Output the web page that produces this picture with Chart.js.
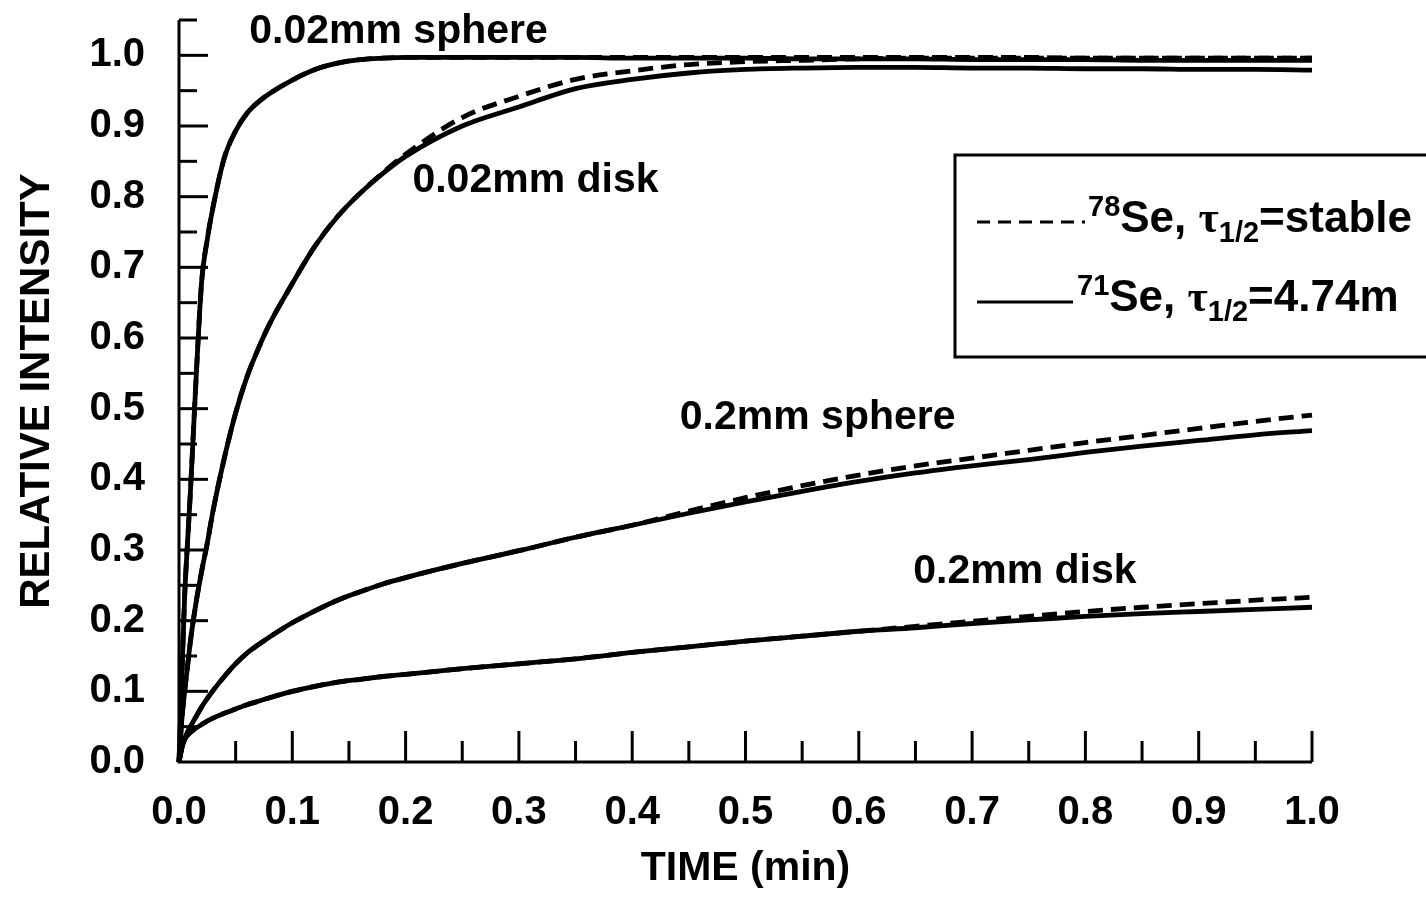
<!DOCTYPE html>
<html><head><meta charset="utf-8">
<script src="https://cdn.jsdelivr.net/npm/chart.js@4"></script>
<style>html,body{margin:0;padding:0;background:#fff;overflow:hidden;}#wrap{width:1426px;height:898px;}</style>
</head><body><div id="wrap"><canvas id="c" width="1426" height="898"></canvas></div>
<script>
// ---- data ----
const timeMin = [0,0.0025,0.005,0.0075,0.01, 0.015,0.02,0.025,0.03, 0.04,0.05,0.06,0.07,0.08, 0.1,0.12,0.14,0.16,0.18,0.2, 0.25,0.3,0.35,0.4,0.45,0.5, 0.55,0.6,0.65,0.7,0.75,0.8, 0.85,0.9,0.95,1.0];

const sphere002_Se71 = [0,0.12,0.235,0.31,0.38, 0.54,0.68,0.74,0.785, 0.855,0.893,0.918,0.934,0.946, 0.965,0.98,0.989,0.994,0.996,0.997, 0.997,0.997,0.997,0.996,0.996,0.996, 0.995,0.995,0.995,0.994,0.994,0.994, 0.993,0.993,0.993,0.993];
const sphere002_Se78 = [0,0.12,0.235,0.31,0.38, 0.54,0.68,0.74,0.785, 0.855,0.893,0.918,0.934,0.946, 0.965,0.98,0.989,0.994,0.996,0.997, 0.997,0.997,0.997,0.997,0.997,0.997, 0.997,0.997,0.997,0.997,0.997,0.996, 0.996,0.996,0.996,0.996];

const disk002_Se71 = [0,0.06,0.10,0.135,0.17, 0.225,0.27,0.31,0.355, 0.43,0.494,0.545,0.585,0.62, 0.677,0.73,0.772,0.805,0.833,0.857, 0.9,0.927,0.953,0.966,0.975,0.98, 0.982,0.983,0.983,0.982,0.982,0.981, 0.981,0.98,0.98,0.979];
const disk002_Se78 = [0,0.06,0.10,0.135,0.17, 0.225,0.27,0.31,0.355, 0.43,0.494,0.545,0.585,0.62, 0.677,0.73,0.772,0.805,0.834,0.86, 0.912,0.942,0.966,0.978,0.987,0.991, 0.993,0.995,0.996,0.996,0.996,0.996, 0.996,0.996,0.996,0.996];

const sphere02_Se71 = [0,0.02,0.032,0.042,0.05, 0.064,0.078,0.09,0.101, 0.121,0.139,0.154,0.166,0.177, 0.197,0.214,0.229,0.241,0.252,0.261, 0.281,0.299,0.318,0.335,0.352,0.368, 0.383,0.397,0.409,0.419,0.428,0.438, 0.447,0.455,0.463,0.469];
const sphere02_Se78 = [0,0.02,0.032,0.042,0.05, 0.064,0.078,0.09,0.101, 0.121,0.139,0.154,0.166,0.177, 0.197,0.214,0.229,0.241,0.252,0.261, 0.281,0.299,0.318,0.335,0.355,0.374, 0.391,0.406,0.419,0.43,0.441,0.452, 0.462,0.472,0.482,0.491];

const disk02_Se71 = [0,0.02,0.032,0.038,0.042, 0.048,0.053,0.058,0.062, 0.069,0.075,0.081,0.086,0.091, 0.1,0.107,0.113,0.117,0.121,0.124, 0.132,0.139,0.146,0.155,0.163,0.171, 0.178,0.185,0.19,0.196,0.201,0.206, 0.21,0.213,0.216,0.219];
const disk02_Se78 = [0,0.02,0.032,0.038,0.042, 0.048,0.053,0.058,0.062, 0.069,0.075,0.081,0.086,0.091, 0.1,0.107,0.113,0.117,0.121,0.124, 0.132,0.139,0.146,0.155,0.163,0.171, 0.178,0.185,0.192,0.199,0.206,0.213, 0.219,0.224,0.229,0.233];

const xTickValues = [0,0.05,0.1,0.15,0.2,0.25,0.3,0.35,0.4,0.45,0.5,0.55,0.6,0.65,0.7,0.75,0.8,0.85,0.9,0.95,1.0];
const xTickLabels = ['0.0','','0.1','','0.2','','0.3','','0.4','','0.5','','0.6','','0.7','','0.8','','0.9','','1.0'];
const yTickValues = [0,0.05,0.1,0.15,0.2,0.25,0.3,0.35,0.4,0.45,0.5,0.55,0.6,0.65,0.7,0.75,0.8,0.85,0.9,0.95,1.0,1.05];
const yTickLabels = ['0.0','','0.1','','0.2','','0.3','','0.4','','0.5','','0.6','','0.7','','0.8','','0.9','','1.0',''];

const curveLabels = ['0.02mm sphere','0.02mm disk','0.2mm sphere','0.2mm disk'];
const curveLabelTime = [0.062,0.206,0.442,0.648];
const curveLabelValue = [1.034,0.823,0.487,0.269];

const legendMass = ['78','71'];
const legendHalfLife = ['stable','4.74m'];

// ---- chart ----
const FONT = '"Liberation Sans", Arial, Helvetica, sans-serif';
const SERIF = '"Liberation Serif", "Times New Roman", serif';
const mk = (label, vals, dashed) => ({
  label, data: timeMin.map((t,i)=>({x:t,y:vals[i]})),
  borderColor:'#000', borderWidth:4.8, borderDash: dashed?[15,8]:[],
  pointRadius:0, fill:false, cubicInterpolationMode:'monotone', clip:8
});
const datasets = [
  mk('0.02mm sphere 71Se', sphere002_Se71, false),
  mk('0.02mm disk 71Se', disk002_Se71, false),
  mk('0.2mm sphere 71Se', sphere02_Se71, false),
  mk('0.2mm disk 71Se', disk02_Se71, false),
  mk('0.02mm sphere 78Se', sphere002_Se78, true),
  mk('0.02mm disk 78Se', disk002_Se78, true),
  mk('0.2mm sphere 78Se', sphere02_Se78, true),
  mk('0.2mm disk 78Se', disk02_Se78, true)
];

function richText(ctx, x, base, parts){
  parts.forEach(p=>{
    ctx.font = 'bold '+p.size+'px '+(p.family||FONT);
    ctx.fillText(p.text, x, base + p.dy);
    x += ctx.measureText(p.text).width + (p.gap||0);
  });
}

const decor = {
  id:'decor',
  afterDraw(chart){
    const {ctx, scales:{x,y}} = chart;
    ctx.save();
    ctx.strokeStyle='#000'; ctx.fillStyle='#000'; ctx.lineWidth=3;
    const x0 = x.getPixelForValue(0), x1 = x.getPixelForValue(1);
    const y0 = y.getPixelForValue(0), yTop = y.getPixelForValue(1.05);
    ctx.beginPath(); ctx.moveTo(x0,yTop); ctx.lineTo(x0,y0); ctx.lineTo(x1,y0); ctx.stroke();
    y.ticks.forEach((t,i)=>{
      if (t.value===0) return;
      const py = y.getPixelForValue(t.value);
      const major = yTickLabels[i] !== '';
      ctx.beginPath(); ctx.moveTo(x0,py); ctx.lineTo(x0+(major?29:18),py); ctx.stroke();
    });
    x.ticks.forEach((t,i)=>{
      if (t.value===0) return;
      const px = x.getPixelForValue(t.value);
      const major = xTickLabels[i] !== '';
      ctx.beginPath(); ctx.moveTo(px,y0); ctx.lineTo(px,y0-(major?31:21)); ctx.stroke();
    });
    // curve labels
    ctx.font = 'bold 41px '+FONT;
    ctx.textAlign='left'; ctx.textBaseline='middle';
    curveLabels.forEach((s,i)=>{
      ctx.fillText(s, x.getPixelForValue(curveLabelTime[i]), y.getPixelForValue(curveLabelValue[i]));
    });
    // legend box
    ctx.lineWidth=3;
    ctx.strokeRect(955,155,500,202);
    ctx.textBaseline='alphabetic';
    const rows = [{y:222, base:232, x1:1085, tx:1088, dash:[13,8]}, {y:302, base:311, x1:1073, tx:1077, dash:[]}];
    rows.forEach((r,i)=>{
      ctx.setLineDash(r.dash); ctx.lineWidth=3;
      ctx.beginPath(); ctx.moveTo(977,r.y); ctx.lineTo(r.x1,r.y); ctx.stroke();
      ctx.setLineDash([]);
      richText(ctx, r.tx, r.base, [
        {text:legendMass[i], size:29, dy:-16},
        {text:'Se, ', size:44, dy:0},
        {text:'\u03C4', size:44, dy:0, family:SERIF},
        {text:'1/2', size:29, dy:10},
        {text:'='+legendHalfLife[i], size:44, dy:0}
      ]);
    });
    ctx.restore();
  }
};

const tickFont = {family:FONT, size:40, weight:'bold'};
new Chart(document.getElementById('c'), {
  type:'line',
  data:{datasets},
  options:{
    responsive:false, animation:false, devicePixelRatio:1,
    layout:{padding:{left:0, top:20, right:114, bottom:0}},
    plugins:{legend:{display:false}, tooltip:{enabled:false}},
    scales:{
      x:{type:'linear', min:0, max:1,
        afterBuildTicks:s=>{s.ticks = xTickValues.map(v=>({value:v}));},
        ticks:{callback:(v,i)=>xTickLabels[i], font:tickFont, color:'#000', padding:27, maxRotation:0, autoSkip:false},
        grid:{display:false, drawTicks:false}, border:{display:false},
        title:{display:true, text:'TIME (min)', font:{family:FONT,size:41,weight:'bold'}, color:'#000', padding:{top:0,bottom:5}},
        afterFit:s=>{s.height=136;}
      },
      y:{type:'linear', min:0, max:1.05,
        afterBuildTicks:s=>{s.ticks = yTickValues.map(v=>({value:v}));},
        ticks:{callback:(v,i)=>yTickLabels[i], font:tickFont, color:'#000', padding:34, autoSkip:false},
        grid:{display:false, drawTicks:false}, border:{display:false},
        title:{display:true, text:'RELATIVE INTENSITY', font:{family:FONT,size:42,weight:'bold'}, color:'#000', padding:{top:12,bottom:0}},
        afterFit:s=>{s.width=179; s.paddingTop=0; s.paddingBottom=0;}
      }
    }
  },
  plugins:[decor]
});
</script></body></html>
